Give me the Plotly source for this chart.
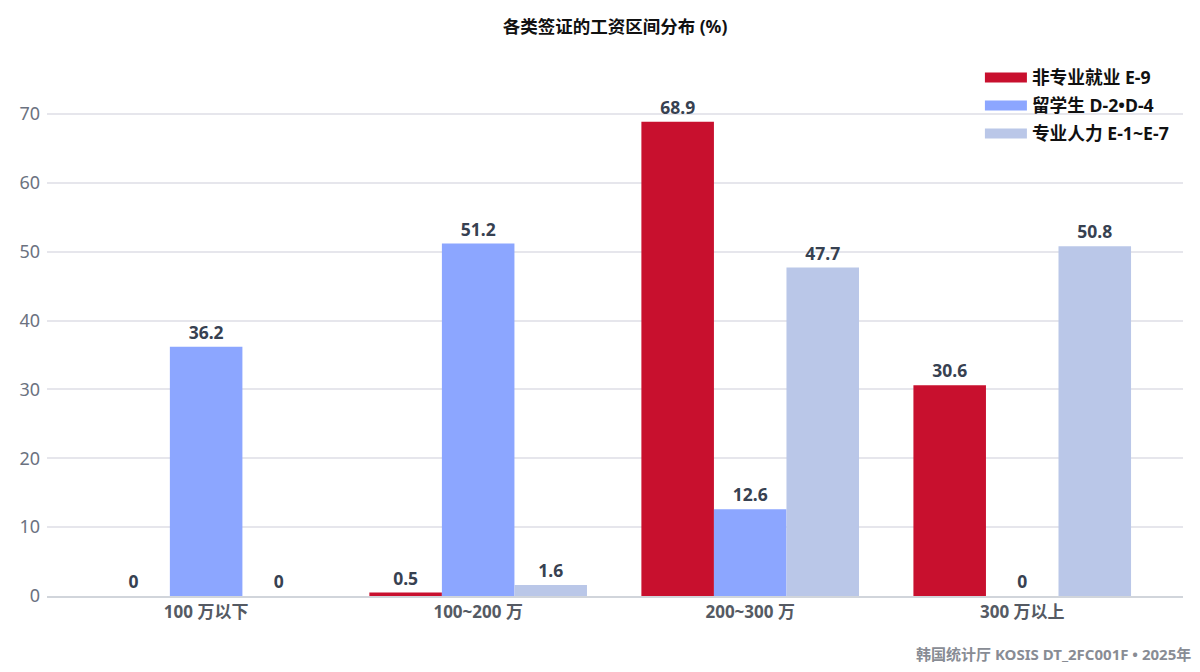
import plotly.graph_objects as go

# salary bands and share (%) per visa type
bands = ['100 万以下', '100~200 万', '200~300 万', '300 万以上']
e9 = [0, 0.5, 68.9, 30.6]
d2d4 = [36.2, 51.2, 12.6, 0]
e1e7 = [0, 1.6, 47.7, 50.8]

names = ['非专业就业 E-9', '留学生 D-2•D-4', '专业人力 E-1~E-7']
colors = ['#C8102E', '#8CA6FF', '#BAC7E8']

FONT = 'Noto Sans, Noto Sans CJK SC, sans-serif'

fig = go.Figure()

for i, (vals, name, col) in enumerate(zip([e9, d2d4, e1e7], names, colors)):
    fig.add_trace(go.Bar(
        x=bands, y=vals, name=name,
        marker=dict(color=col, line=dict(width=0)),
        text=[f'{v:g}' for v in vals],
        textposition='outside',
        cliponaxis=False,
        textfont=dict(family=FONT, size=17.5, color='#374151', weight='bold'),
        showlegend=False,
    ))
    # wide legend swatch via a dummy line trace
    fig.add_trace(go.Scatter(
        x=[None], y=[None], mode='lines', name=name, legendgroup=f'g{i}',
        line=dict(color=col, width=12),
    ))

fig.update_layout(
    width=1200, height=672,
    paper_bgcolor='white', plot_bgcolor='white',
    margin=dict(l=39, r=25, t=62, b=84),
    barmode='group', bargap=0.2, bargroupgap=0,
    font=dict(family=FONT),
    title=dict(text='各类签证的工资区间分布 (%)', x=0.5, xref='paper', y=0.972, yanchor='middle',
               font=dict(family=FONT, size=17.5, color='#111111', weight='bold')),
    legend=dict(x=0.992, xanchor='right', y=1.02, yanchor='top', itemwidth=42,
                bgcolor='rgba(255,255,255,0)', traceorder='grouped',
                font=dict(family=FONT, size=17.7, color='#111111', weight='bold'),
                tracegroupgap=2),
    xaxis=dict(range=[-0.585, 3.591], showgrid=False, showline=True, linecolor='#d1d5db',
               linewidth=1.5, ticks='',
               tickfont=dict(family=FONT, size=17, color='#555a63', weight='bold')),
    yaxis=dict(range=[0, 76.4], dtick=10, showgrid=True, gridcolor='#e6e6ec', gridwidth=1.5,
               zeroline=False, showline=False, ticks='', ticklabelstandoff=6,
               tickfont=dict(family=FONT, size=18, color='#6b7280')),
    annotations=[dict(text='韩国统计厅 KOSIS DT_2FC001F • 2025年', xref='paper', yref='paper',
                      x=1, xshift=10, y=0, yshift=-58, xanchor='right', yanchor='middle',
                      showarrow=False,
                      font=dict(family=FONT, size=15, color='#888c94', weight='bold'))],
)

fig.write_html('out.html')
